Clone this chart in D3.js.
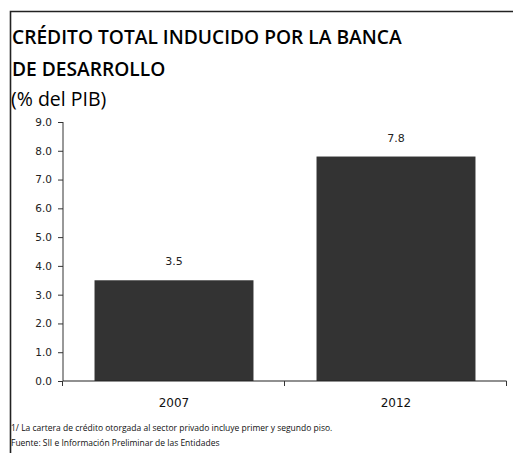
<!DOCTYPE html>
<html>
<head>
<meta charset="utf-8">
<script src="https://cdn.jsdelivr.net/npm/d3@7"></script>
<style>
  html, body { margin: 0; padding: 0; background: #fff; }
  svg { display: block; }
</style>
</head>
<body>
<svg id="chart" width="513" height="453"></svg>
<script>
// Crédito total inducido por la banca de desarrollo (% del PIB)
const years = ["2007", "2012"];
const values = [3.5, 7.8];
const yTicks = [0, 1, 2, 3, 4, 5, 6, 7, 8, 9];

const titleLines = ["CRÉDITO TOTAL INDUCIDO POR LA BANCA", "DE DESARROLLO"];
const subtitle = "(% del PIB)";
const notes = [
  "1/ La cartera de crédito otorgada al sector privado incluye primer y segundo piso.",
  "Fuente: SII e Información Preliminar de las Entidades"
];

const svg = d3.select("#chart");
const W = 513, H = 453;

// outer frame (open to the right and bottom)
svg.append("path")
  .attr("d", `M10.5,${H} V11.5 H${W}`)
  .attr("fill", "none")
  .attr("stroke", "#222")
  .attr("stroke-width", 1.6);

// title
const title = svg.append("g").attr("font-family", "'Open Sans', 'DejaVu Sans', sans-serif")
  .attr("font-weight", 600).attr("fill", "#000");
titleLines.forEach((t, i) => {
  title.append("text").attr("x", 12).attr("y", 44 + i * 32)
    .attr("font-size", 19.2).text(t);
});
svg.append("text").attr("x", 11).attr("y", 106)
  .attr("font-family", "'Open Sans', 'DejaVu Sans', sans-serif")
  .attr("font-size", 19.5).attr("fill", "#000").text(subtitle);

// plot area
const x0 = 63, x1 = 507, yTop = 122, yBot = 381;
const x = d3.scaleBand().domain(years).range([x0, x1]).padding(0);
const y = d3.scaleLinear().domain([0, 9]).range([yBot, yTop]);
const barW = x.bandwidth() * 0.716;

const font = "'DejaVu Sans', Verdana, sans-serif";

// bars
svg.append("g").selectAll("rect").data(values).join("rect")
  .attr("x", (d, i) => x(years[i]) + (x.bandwidth() - barW) / 2)
  .attr("width", barW)
  .attr("y", d => y(d))
  .attr("height", d => y(0) - y(d))
  .attr("fill", "#333333");

// value labels
svg.append("g").selectAll("text").data(values).join("text")
  .attr("x", (d, i) => x(years[i]) + x.bandwidth() / 2)
  .attr("y", d => y(d) - 15)
  .attr("text-anchor", "middle")
  .attr("font-family", font).attr("font-size", 11).attr("fill", "#222")
  .text(d => d.toFixed(1));

// y axis
const yAxis = d3.axisLeft(y).tickValues(yTicks).tickFormat(d3.format(".1f"))
  .tickSize(5).tickPadding(6);
const gy = svg.append("g").attr("transform", `translate(${x0},0)`).call(yAxis);
gy.select(".domain").attr("d", `M0,${yTop}V${yBot}`).attr("stroke", "#333");
gy.selectAll(".tick line").attr("stroke", "#333");
gy.selectAll(".tick text").attr("font-family", font).attr("font-size", 10.5).attr("fill", "#222");

// x axis with ticks on category boundaries
const gx = svg.append("g").attr("transform", `translate(0,${yBot})`);
gx.append("path").attr("d", `M${x0},0H${x1 - 0.5}`).attr("stroke", "#222").attr("stroke-width", 1.2);
const bounds = [x0].concat(years.map(c => x(c) + x.bandwidth()));
gx.selectAll("line.b").data(bounds).join("line")
  .attr("x1", d => Math.round(d) - 0.5).attr("x2", d => Math.round(d) - 0.5)
  .attr("y1", 0).attr("y2", 5).attr("stroke", "#333");
gx.selectAll("text").data(years).join("text")
  .attr("x", d => x(d) + x.bandwidth() / 2)
  .attr("y", 26)
  .attr("text-anchor", "middle")
  .attr("font-family", font).attr("font-size", 12).attr("fill", "#111")
  .text(d => d);

// footnotes
notes.forEach((t, i) => {
  svg.append("text").attr("x", 11).attr("y", 431 + i * 15)
    .attr("font-family", "'Open Sans', 'DejaVu Sans', sans-serif")
    .attr("font-size", 8.5).attr("fill", "#111").text(t);
});
</script>
</body>
</html>
